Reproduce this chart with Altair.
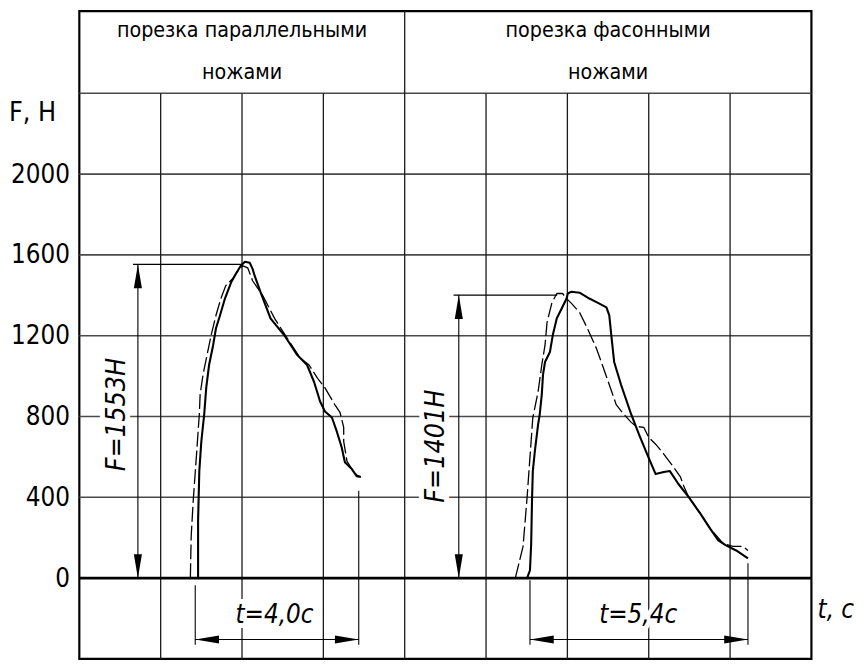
import altair as alt
import pandas as pd

FONT = "DejaVu Sans Condensed, DejaVu Sans, sans-serif"

# ---------------- data ----------------
f_ticks = [0, 400, 800, 1200, 1600, 2000]
grid_F = [400, 800, 1200, 1600, 2000, 2400]
grid_t = [2, 4, 6, 10, 12, 14, 16]
T_MAX, F_MIN, F_MAX, F_HEAD = 18, -400, 2807, 2400

# left group: parallel knives (solid / dashed)
ls_t = [2.92, 2.92, 2.95, 3.00, 3.07, 3.12, 3.19, 3.29, 3.36, 3.46, 3.58, 3.73, 3.85, 3.97, 4.07, 4.19,
        4.26, 4.31, 4.46, 4.70, 5.04, 5.36, 5.60, 5.77, 5.92, 6.04, 6.21, 6.33, 6.45, 6.53, 6.70, 6.82, 6.92]
ls_F = [0, 285, 530, 677, 810, 942, 1055, 1153, 1237, 1301, 1384, 1463, 1507, 1546, 1566, 1561,
        1531, 1497, 1413, 1286, 1202, 1104, 1055, 972, 874, 825, 795, 726, 648, 574, 540, 505, 501]
ld_t = [2.73, 2.75, 2.80, 2.87, 2.95, 2.97, 3.04, 3.14, 3.24, 3.36, 3.48, 3.60, 3.77, 3.90, 4.02, 4.14,
        4.26, 4.51, 4.80, 5.11, 5.43, 5.65, 5.85, 6.04, 6.28, 6.41, 6.50, 6.50, 6.58, 6.70, 6.82, 6.92]
ld_F = [0, 206, 383, 579, 810, 908, 1006, 1104, 1202, 1301, 1384, 1448, 1482, 1521, 1546, 1536,
        1472, 1399, 1286, 1188, 1090, 1055, 991, 942, 859, 820, 746, 677, 579, 540, 510, 501]

# right group: shaped knives (solid / dashed)
rs_t = [11.01, 11.08, 11.11, 11.13, 11.15, 11.20, 11.28, 11.32, 11.37, 11.40, 11.45, 11.57, 11.64, 11.74,
        11.86, 11.98, 12.01, 12.10, 12.30, 12.54, 12.74, 12.96, 13.03, 13.08, 13.15, 13.32, 13.57, 13.76,
        13.96, 14.17, 14.37, 14.52, 14.73, 14.98, 15.27, 15.51, 15.71, 15.90, 16.15, 16.44]
rs_F = [0, 39, 172, 383, 530, 628, 761, 810, 908, 1006, 1070, 1119, 1202, 1286,
        1335, 1384, 1409, 1418, 1413, 1384, 1364, 1340, 1301, 1202, 1070, 957, 810, 712,
        614, 515, 525, 530, 466, 402, 319, 245, 187, 162, 137, 98]
rd_t = [10.72, 10.91, 11.01, 11.08, 11.15, 11.20, 11.28, 11.37, 11.45, 11.50, 11.62, 11.74, 11.88, 11.98,
        12.10, 12.30, 12.49, 12.71, 12.86, 13.03, 13.20, 13.35, 13.57, 13.69, 13.88, 14.00, 14.17, 14.37,
        14.61, 14.78, 14.86, 14.98, 15.27, 15.51, 15.83, 16.07, 16.32, 16.44]
rd_F = [0, 157, 402, 599, 795, 844, 923, 1055, 1153, 1266, 1364, 1409, 1409, 1384,
        1360, 1315, 1237, 1139, 1055, 957, 859, 820, 771, 751, 746, 697, 663, 614,
        550, 501, 456, 402, 319, 245, 172, 157, 157, 137]

# annotation values
peak_left, peak_right = 1553, 1401
dur_left, dur_right = "t=4,0c", "t=5,4c"
header_texts = ["порезка параллельными", "ножами", "порезка фасонными", "ножами"]

# ---------------- tables ----------------
def series(ts, fs, name, kind):
    return pd.DataFrame({"t": ts, "F": fs, "series": name, "kind": kind, "idx": range(len(ts))})

curves = pd.concat([
    series(ls_t, ls_F, "left_solid", "solid"),
    series(ld_t, ld_F, "left_dashed", "dashed"),
    series(rs_t, rs_F, "right_solid", "solid"),
    series(rd_t, rd_F, "right_dashed", "dashed"),
])

xs = alt.Scale(domain=[0, T_MAX], nice=False, zero=False)
ys = alt.Scale(domain=[F_MIN, F_MAX], nice=False, zero=False)
yaxis = alt.Axis(values=f_ticks, format="d", labelFont=FONT, labelFontSize=26, labelColor="black",
                 ticks=False, domain=False, grid=False, labelPadding=10, title=None)


def X(f):
    return alt.X(f, type="quantitative", scale=xs, axis=None)


def Y(f):
    return alt.Y(f, type="quantitative", scale=ys, axis=yaxis)


# grid
hgrid = pd.DataFrame({"t": 0, "t2": T_MAX, "F": grid_F, "F2": grid_F})
vgrid = pd.DataFrame({"t": grid_t, "t2": grid_t, "F": F_MIN, "F2": F_HEAD})
vmid = pd.DataFrame({"t": [8], "t2": [8], "F": [F_MIN], "F2": [F_MAX]})
zero = pd.DataFrame({"t": [0], "t2": [T_MAX], "F": [0], "F2": [0]})

grid_h = alt.Chart(hgrid).mark_rule(color="#4a4a4a", strokeWidth=1.6).encode(
    x=X("t"), x2="t2", y=Y("F"), y2="F2")
grid_v = alt.Chart(pd.concat([vgrid, vmid])).mark_rule(color="#1a1a1a", strokeWidth=1.3).encode(
    x=X("t"), x2="t2", y=Y("F"), y2="F2")
zero_line = alt.Chart(zero).mark_rule(color="black", strokeWidth=2.6).encode(
    x=X("t"), x2="t2", y=Y("F"), y2="F2")

# curves
solid = alt.Chart(curves[curves.kind == "solid"]).mark_line(
    color="black", strokeWidth=2.1, strokeJoin="round").encode(
    x=X("t"), y=Y("F"), detail="series:N", order="idx:Q")
dashed = alt.Chart(curves[curves.kind == "dashed"]).mark_line(
    color="black", strokeWidth=1.3, strokeDash=[15, 4], strokeJoin="round").encode(
    x=X("t"), y=Y("F"), detail="series:N", order="idx:Q")

# dimension lines
DIM_Y = -304
dims = pd.DataFrame({
    "t":  [1.44, 9.33, 1.32, 9.20, 2.85, 11.08, 2.85, 6.87, 11.08, 16.44],
    "t2": [1.44, 9.33, 4.00, 11.75, 6.87, 16.44, 2.85, 6.87, 11.08, 16.44],
    "F":  [0, 0, peak_left, peak_right, DIM_Y, DIM_Y, -35, 432, -10, 74],
    "F2": [peak_left, peak_right, peak_left, peak_right, DIM_Y, DIM_Y, -330, -330, -330, -330],
})
dim_lines = alt.Chart(dims).mark_rule(color="black", strokeWidth=1.1).encode(
    x=X("t"), x2="t2", y=Y("F"), y2="F2")

SZ = 2304
arrows_up = pd.DataFrame({"t": [1.44, 9.33], "F": [peak_left, peak_right]})
arrows_down = pd.DataFrame({"t": [1.44, 9.33], "F": [0, 0]})
arrows_left = pd.DataFrame({"t": [2.85, 11.08], "F": [DIM_Y, DIM_Y]})
arrows_right = pd.DataFrame({"t": [6.87, 16.44], "F": [DIM_Y, DIM_Y]})


def arrow(df, path):
    return alt.Chart(df).mark_point(shape=path, size=SZ, filled=True, color="black",
                                    opacity=1, strokeWidth=0).encode(x=X("t"), y=Y("F"))


arr = [arrow(arrows_up, "M0,0L0.17,1L-0.17,1Z"),
       arrow(arrows_down, "M0,0L0.17,-1L-0.17,-1Z"),
       arrow(arrows_left, "M0,0L1,-0.17L1,0.17Z"),
       arrow(arrows_right, "M0,0L-1,-0.17L-1,0.17Z")]

# texts
head = pd.DataFrame({"t": [4.0, 4.0, 13.0, 13.0], "F": [2710, 2502, 2710, 2502], "txt": header_texts})
head_txt = alt.Chart(head).mark_text(font=FONT, fontSize=21.5, color="black").encode(
    x=X("t"), y=Y("F"), text="txt:N")

fh = pd.DataFrame({"t": [-1.15], "F": [2300], "txt": ["F, H"]})
fh_txt = alt.Chart(fh).mark_text(font=FONT, fontSize=27, color="black").encode(
    x=X("t"), y=Y("F"), text="txt:N")

tc = pd.DataFrame({"t": [18.6], "F": [-157], "txt": ["t, c"]})
tc_txt = alt.Chart(tc).mark_text(font=FONT, fontSize=26, fontStyle="italic", color="black").encode(
    x=X("t"), y=Y("F"), text="txt:N")

flab = pd.DataFrame({"t": [0.93, 8.77], "F": [810, 653],
                     "txt": [f"F={peak_left}H", f"F={peak_right}H"]})
tlab = pd.DataFrame({"t": [4.8, 13.74], "F": [-182, -182], "txt": [dur_left, dur_right]})

f_halo = alt.Chart(flab).mark_text(font=FONT, fontSize=27, fontStyle="italic", angle=270,
                                   color="white", stroke="white", strokeWidth=10).encode(
    x=X("t"), y=Y("F"), text="txt:N")
f_txt = alt.Chart(flab).mark_text(font=FONT, fontSize=27, fontStyle="italic", angle=270,
                                  color="black").encode(x=X("t"), y=Y("F"), text="txt:N")
t_halo = alt.Chart(tlab).mark_text(font=FONT, fontSize=26, fontStyle="italic",
                                   color="white", stroke="white", strokeWidth=10).encode(
    x=X("t"), y=Y("F"), text="txt:N")
t_txt = alt.Chart(tlab).mark_text(font=FONT, fontSize=26, fontStyle="italic",
                                  color="black").encode(x=X("t"), y=Y("F"), text="txt:N")

chart = alt.layer(
    grid_h, grid_v, zero_line, f_halo, t_halo, dim_lines, *arr,
    dashed, solid, head_txt, fh_txt, tc_txt, f_txt, t_txt
).properties(
    width=739, height=654,
    autosize=alt.AutoSizeParams(type="none"),
    padding={"left": 72, "top": 0, "right": 45, "bottom": 0},
    background="white",
).configure_view(stroke="black", strokeWidth=2.2)

chart.save("out.html", embed_options={"renderer": "svg", "actions": False})
